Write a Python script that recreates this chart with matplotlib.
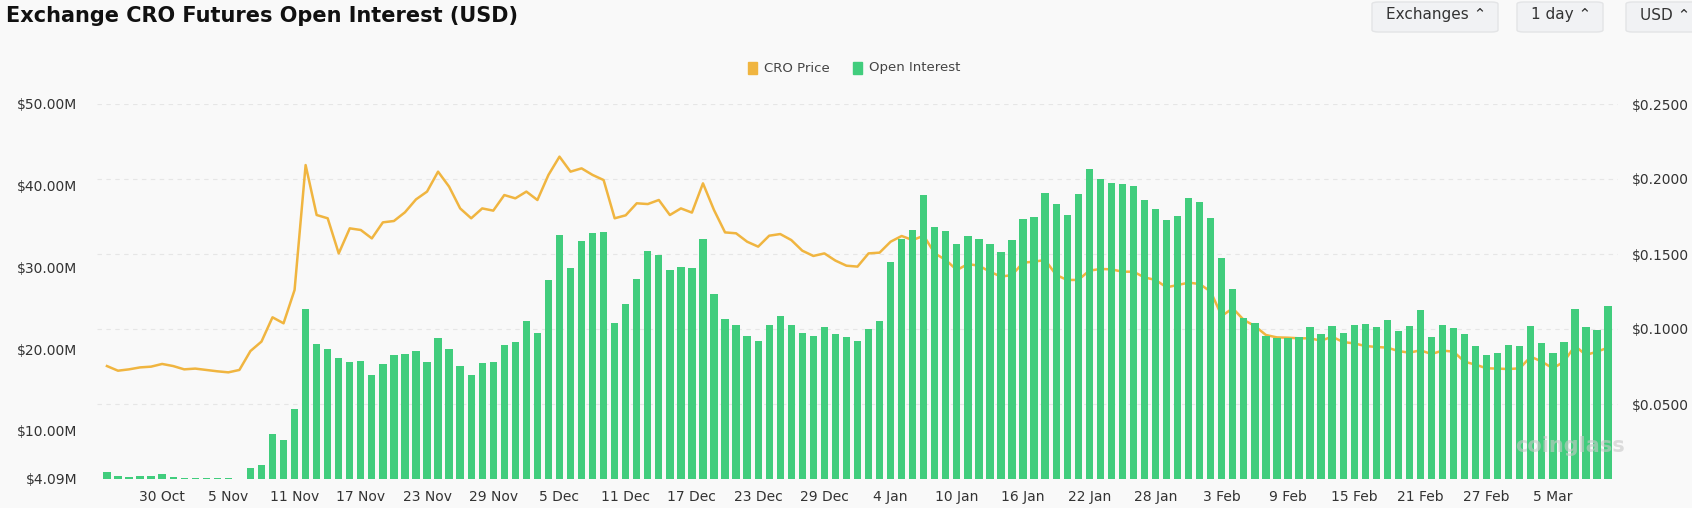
import matplotlib
matplotlib.use("Agg")
import matplotlib.pyplot as plt
from matplotlib.patches import FancyBboxPatch
import numpy as np

open_interest = [
    4.95, 4.42, 4.37, 4.42, 4.46, 4.70, 4.37, 4.25, 4.21, 4.21, 4.17, 4.17, 4.09, 5.44, 5.84,
    9.60, 8.86, 12.62, 24.86, 20.58, 19.97, 18.86, 18.41, 18.53, 16.78, 18.13, 19.23, 19.35,
    19.72, 18.41, 21.31, 19.97, 17.96, 16.86, 18.25, 18.41, 20.45, 20.90, 23.43, 22.00, 28.41,
    33.92, 29.92, 33.18, 34.16, 34.32, 23.15, 25.55, 28.57, 32.03, 31.47, 29.67, 30.08, 29.92,
    33.43, 26.73, 23.64, 22.98, 21.63, 21.02, 22.98, 24.04, 22.98, 22.00, 21.63, 22.66, 21.87,
    21.51, 21.02, 22.45, 23.43, 30.65, 33.47, 34.57, 38.89, 34.97, 34.41, 32.89, 33.87, 33.43,
    32.82, 31.87, 33.34, 35.88, 36.16, 39.06, 37.79, 36.37, 38.94, 42.03, 40.77, 40.32, 40.20,
    39.99, 38.20, 37.14, 35.79, 36.24, 38.45, 38.03, 36.04, 31.10, 27.31, 23.76, 23.15, 21.59,
    21.31, 21.31, 21.51, 22.66, 21.80, 22.85, 21.96, 22.94, 23.06, 22.69, 23.51, 22.24, 22.85,
    24.81, 21.47, 22.94, 22.57, 21.80, 20.41, 19.23, 19.55, 20.49, 20.33, 22.82, 20.70, 19.48,
    20.90, 24.86, 22.69, 22.36, 25.23,
]

cro_price = [
    0.0753, 0.0722, 0.0731, 0.0744, 0.0749, 0.0767, 0.0753, 0.0731, 0.0736, 0.0727, 0.0718,
    0.0711, 0.0727, 0.0853, 0.0916, 0.1078, 0.1038, 0.1260, 0.2093, 0.1760, 0.1738, 0.1504,
    0.1671, 0.1660, 0.1604, 0.1711, 0.1720, 0.1778, 0.1864, 0.1916, 0.2049, 0.1949, 0.1804,
    0.1738, 0.1804, 0.1789, 0.1893, 0.1871, 0.1916, 0.1860, 0.2027, 0.2149, 0.2049, 0.2071,
    0.2027, 0.1993, 0.1738, 0.1758, 0.1838, 0.1833, 0.1860, 0.1760, 0.1804, 0.1776, 0.1971,
    0.1793, 0.1644, 0.1638, 0.1582, 0.1549, 0.1622, 0.1633, 0.1593, 0.1522, 0.1487, 0.1504,
    0.1456, 0.1422, 0.1416, 0.1504, 0.1509, 0.1582, 0.1620, 0.1593, 0.1622, 0.1504, 0.1460,
    0.1393, 0.1433, 0.1422, 0.1382, 0.1349, 0.1360, 0.1442, 0.1449, 0.1460, 0.1360, 0.1327,
    0.1327, 0.1389, 0.1400, 0.1398, 0.1382, 0.1382, 0.1344, 0.1327, 0.1278, 0.1293, 0.1309,
    0.1300, 0.1249, 0.1087, 0.1138, 0.1060, 0.1020, 0.0960, 0.0944, 0.0942, 0.0938, 0.0938,
    0.0922, 0.0949, 0.0913, 0.0904, 0.0887, 0.0880, 0.0876, 0.0853, 0.0842, 0.0858, 0.0833,
    0.0856, 0.0849, 0.0782, 0.0762, 0.0738, 0.0736, 0.0733, 0.0738, 0.0816, 0.0782, 0.0738,
    0.0782, 0.0887, 0.0827, 0.0849, 0.0876,
]

tick_labels = ["30 Oct", "5 Nov", "11 Nov", "17 Nov", "23 Nov", "29 Nov", "5 Dec", "11 Dec",
               "17 Dec", "23 Dec", "29 Dec", "4 Jan", "10 Jan", "16 Jan", "22 Jan", "28 Jan",
               "3 Feb", "9 Feb", "15 Feb", "21 Feb", "27 Feb", "5 Mar"]
tick_index = [5, 11, 17, 23, 29, 35, 41, 47, 53, 59, 65, 71, 77, 83, 89, 95, 101, 107, 113,
              119, 125, 131]
left_ticks = [4.09, 10, 20, 30, 40, 50]
left_labels = ["$4.09M", "$10.00M", "$20.00M", "$30.00M", "$40.00M", "$50.00M"]
right_ticks = [0.05, 0.10, 0.15, 0.20, 0.25]
right_labels = ["$0.0500", "$0.1000", "$0.1500", "$0.2000", "$0.2500"]

BG = "#f9f9f9"
GREEN = "#41cd7d"
GOLD = "#f0b540"
TXT = "#333333"

W, H = 1692, 508
fig = plt.figure(figsize=(W / 100, H / 100), dpi=100, facecolor=BG)
x0, x1, yt, yb = 97, 1618, 104, 479
ax = fig.add_axes([x0 / W, 1 - yb / H, (x1 - x0) / W, (yb - yt) / H])
ax.set_facecolor(BG)
x = np.arange(len(open_interest))
ax.bar(x, open_interest, width=0.66, color=GREEN, zorder=2)
ax.set_xlim(-0.9, len(x) - 1 + 0.9)
ax.set_ylim(4.09, 50)
ax.set_yticks(left_ticks)
ax.set_yticklabels(left_labels)
ax.set_xticks(tick_index)
ax.set_xticklabels(tick_labels)
for s in ax.spines.values():
    s.set_visible(False)
ax.tick_params(length=0, labelsize=10, colors=TXT, pad=8)
ax.tick_params(axis="y", pad=14)

ax2 = ax.twinx()
ax2.set_ylim(0, 0.25)
ax2.set_yticks(right_ticks)
ax2.set_yticklabels(right_labels)
ax2.grid(axis="y", color="#e6e6e6", linestyle=(0, (4, 4)), linewidth=0.8)
ax2.set_axisbelow(True)
for s in ax2.spines.values():
    s.set_visible(False)
ax2.tick_params(length=0, labelsize=10, colors=TXT, pad=10)
ax2.plot(x, cro_price, color=GOLD, linewidth=1.8, zorder=3)
ax.set_zorder(ax2.get_zorder() + 1)
ax.patch.set_visible(False)
ax2.patch.set_visible(True)
ax2.patch.set_facecolor(BG)

fig.text(6 / W, 1 - 16 / H, "Exchange CRO Futures Open Interest (USD)", fontsize=15,
         fontweight="bold", color="#111111", va="center", ha="left")

# legend
ly = 1 - 68 / H
for (lx, col, lab) in [(748, GOLD, "CRO Price"), (853, GREEN, "Open Interest")]:
    fig.patches.append(FancyBboxPatch(((lx) / W, ly - 6 / H), 9 / W, 12 / H,
                                      boxstyle="square,pad=0", transform=fig.transFigure,
                                      color=col))
    fig.text((lx + 16) / W, ly, lab, fontsize=9.5, color="#444444", va="center", ha="left")

# top-right buttons
for (bx, bw, lab) in [(1372, 126, "Exchanges ⌃"), (1517, 86, "1 day ⌃"), (1626, 80, "USD ⌃")]:
    fig.patches.append(FancyBboxPatch((bx / W, 1 - 32 / H), bw / W, 30 / H,
                                      boxstyle="round,pad=0,rounding_size=0.004",
                                      transform=fig.transFigure, facecolor="#f1f2f4",
                                      edgecolor="#e3e4e6"))
    fig.text((bx + 14) / W, 1 - 15 / H, lab, fontsize=11, color="#333333", va="center")

fig.text(1515 / W, 1 - 446 / H, "coinglass", fontsize=15, color="#c8c8c8", alpha=0.6,
         va="center", fontweight="bold")

fig.savefig("out.png", dpi=100, facecolor=BG)
